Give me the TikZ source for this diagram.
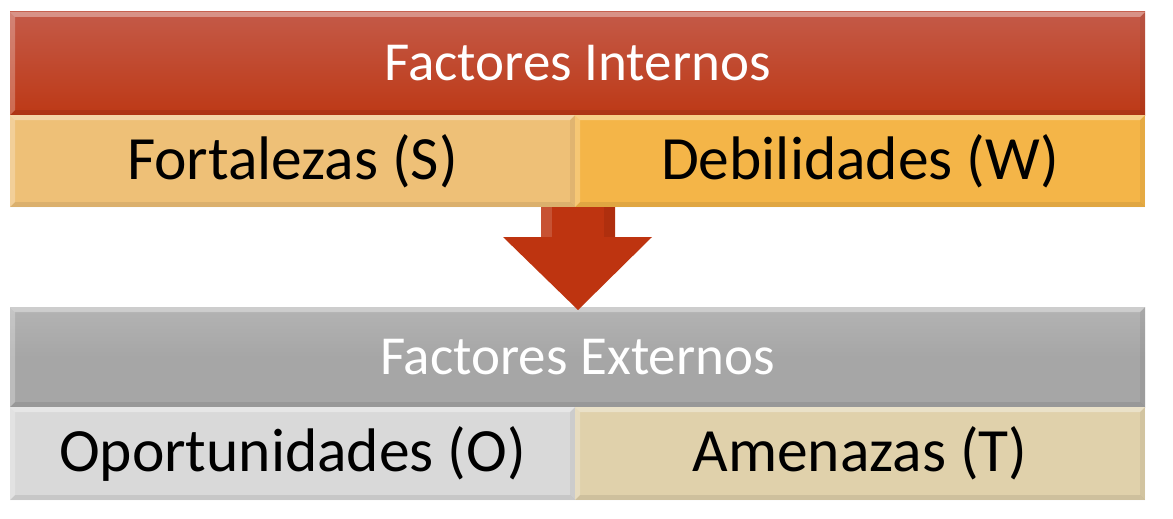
\documentclass[tikz,border=0pt]{standalone}
\usepackage{fontspec}
\setmainfont{Carlito}
\definecolor{redtop}{HTML}{C45A48}
\definecolor{redbot}{HTML}{BD3916}
\definecolor{fortc}{HTML}{EEC077}
\definecolor{debc}{HTML}{F4B548}
\definecolor{grayc}{HTML}{A6A6A6}
\definecolor{oporc}{HTML}{D9D9D9}
\definecolor{amenc}{HTML}{E0D1AB}
\definecolor{arrowc}{HTML}{BE3410}
\tikzset{
  bar/.style={inner sep=0pt, outer sep=0pt, anchor=center,
    path picture={
      \fill[white,opacity=0.35] (path picture bounding box.north west) -- (path picture bounding box.north east)
        -- ([shift={(-5pt,-5pt)}]path picture bounding box.north east) -- ([shift={(5pt,-5pt)}]path picture bounding box.north west) -- cycle;
      \fill[white,opacity=0.25] (path picture bounding box.north west) -- ([shift={(5pt,-5pt)}]path picture bounding box.north west)
        -- ([shift={(5pt,5pt)}]path picture bounding box.south west) -- (path picture bounding box.south west) -- cycle;
      \fill[black,opacity=0.08] (path picture bounding box.south west) -- (path picture bounding box.south east)
        -- ([shift={(-5pt,5pt)}]path picture bounding box.south east) -- ([shift={(5pt,5pt)}]path picture bounding box.south west) -- cycle;
      \fill[black,opacity=0.06] (path picture bounding box.north east) -- ([shift={(-5pt,-5pt)}]path picture bounding box.north east)
        -- ([shift={(-5pt,5pt)}]path picture bounding box.south east) -- (path picture bounding box.south east) -- cycle;
    }},
  headbar/.style={bar, minimum width=1135pt, font=\fontsize{55}{62}\selectfont, text=white},
  cellbar/.style={bar, font=\fontsize{61.5}{70}\selectfont, text=black},
}
\begin{document}
\begin{tikzpicture}[x=1pt,y=-1pt]
\useasboundingbox[fill=white] (0,0) rectangle (1173,519);
% Internal factors
\node[headbar, minimum height=103pt, top color=redtop, bottom color=redbot] (fi) at (577.5,63.5) {Factores Internos};
\node[cellbar, minimum width=565pt, minimum height=92pt, fill=fortc, anchor=north west] (fs) at (fi.south west) {Fortalezas (S)};
\node[cellbar, minimum width=570pt, minimum height=92pt, fill=debc, anchor=north east] (dw) at (fi.south east) {Debilidades (W)};
% External factors
\node[headbar, minimum height=100pt, top color=grayc!85!white, bottom color=grayc, middle color=grayc] (fe) at (577.5,357) {Factores Externos};
\node[cellbar, minimum width=565pt, minimum height=93pt, fill=oporc, anchor=north west] (oo) at (fe.south west) {Oportunidades (O)};
\node[cellbar, minimum width=570pt, minimum height=93pt, fill=amenc, anchor=north east] (at) at (fe.south east) {Amenazas (T)};
% Arrow
\coordinate (tip) at (578,310);
\fill[arrowc] (541,207) -- (615,207) -- (615,237) -- (652,237) -- (tip) -- (503,237) -- (541,237) -- cycle;
\fill[white,opacity=0.15] (541,207) -- (552,207) -- (552,237) -- (541,237) -- cycle;
\fill[black,opacity=0.08] (604,207) -- (615,207) -- (615,237) -- (604,237) -- cycle;
\end{tikzpicture}
\end{document}
